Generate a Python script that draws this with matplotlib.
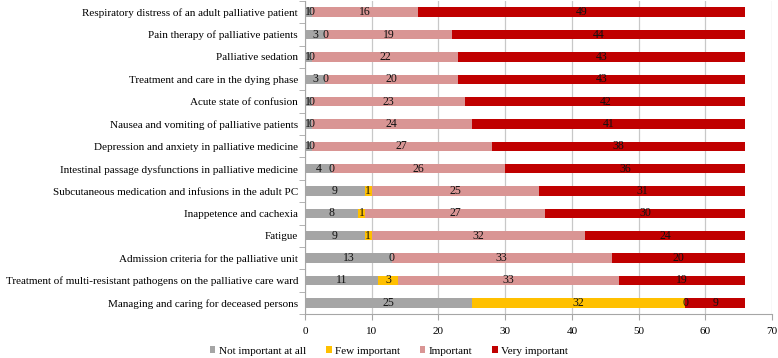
import numpy as np
import matplotlib
matplotlib.use('Agg')
import matplotlib.pyplot as plt
from matplotlib.ticker import MultipleLocator

plt.rcParams['font.family'] = ['Liberation Serif', 'DejaVu Serif']

# categories, top to bottom
categories = [
    'Respiratory distress of an adult palliative patient',
    'Pain therapy of palliative patients',
    'Palliative sedation',
    'Treatment and care in the dying phase',
    'Acute state of confusion',
    'Nausea and vomiting of palliative patients',
    'Depression and anxiety in palliative medicine',
    'Intestinal passage dysfunctions in palliative medicine',
    'Subcutaneous medication and infusions in the adult PC',
    'Inappetence and cachexia',
    'Fatigue',
    'Admission criteria for the palliative unit',
    'Treatment of multi-resistant pathogens on the palliative care ward',
    'Managing and caring for deceased persons',
]
not_important = [1, 3, 1, 3, 1, 1, 1, 4, 9, 8, 9, 13, 11, 25]
few_important = [0, 0, 0, 0, 0, 0, 0, 0, 1, 1, 1, 0, 3, 32]
important = [16, 19, 22, 20, 23, 24, 27, 26, 25, 27, 32, 33, 33, 0]
very_important = [49, 44, 43, 43, 42, 41, 38, 36, 31, 30, 24, 20, 19, 9]

series = [
    ('Not important at all', not_important, '#A5A5A5'),
    ('Few important', few_important, '#FFC000'),
    ('Important', important, '#D99594'),
    ('Very important', very_important, '#C00000'),
]

fig = plt.figure(figsize=(7.78, 3.58), dpi=100)
ax = fig.add_axes([305 / 778, 44 / 358, (772 - 305) / 778, (357 - 44) / 358])

y = np.arange(len(categories))[::-1]
left = np.zeros(len(categories))
for name, vals, color in series:
    vals = np.array(vals, dtype=float)
    ax.barh(y, vals, left=left, height=0.42, color=color, label=name, zorder=3)
    for yi, l, v in zip(y, left, vals):
        ax.text(l + v / 2, yi, f'{int(v)}', ha='center', va='center',
                fontsize=8.5, color='#111111', zorder=4)
    left += vals

ax.set_xlim(0, 70)
ax.set_ylim(-0.5, len(categories) - 0.5)
ax.xaxis.set_major_locator(MultipleLocator(10))
ax.grid(axis='x', color='#C8C8C8', linewidth=0.9, zorder=0)
ax.set_axisbelow(True)

ax.set_yticks(y)
ax.set_yticklabels(categories, fontsize=8)
ax.set_yticks(np.arange(-0.5, len(categories), 1), minor=True)
ax.tick_params(axis='y', which='major', length=0, pad=5)
ax.tick_params(axis='y', which='minor', length=4, color='#A6A6A6')
ax.tick_params(axis='x', length=4, color='#A6A6A6', labelsize=8, pad=5)

for s in ['top', 'right']:
    ax.spines[s].set_visible(False)
for s in ['left', 'bottom']:
    ax.spines[s].set_color('#A6A6A6')

handles, labels = ax.get_legend_handles_labels()
fig.legend(handles, labels, loc='center', bbox_to_anchor=(0.5, 7 / 358),
           ncol=4, frameon=False, fontsize=8, handlelength=0.5,
           handleheight=0.5, handletextpad=0.3, columnspacing=1.8)

fig.savefig('out.png', dpi=100)
